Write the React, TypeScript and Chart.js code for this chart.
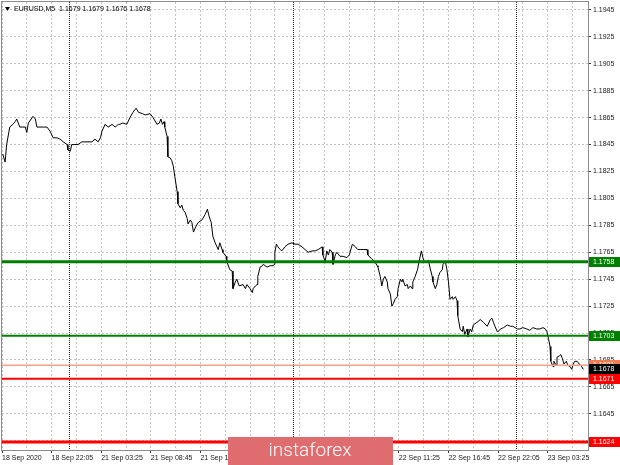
import { useEffect, useRef } from "react";
import { Chart, registerables } from "chart.js";
Chart.register(...registerables);

const symbolTitle = "EURUSD,M5  1.1679 1.1679 1.1676 1.1678";

// bar index (M5 bars counted from 18 Sep 16:45) and close price
const barIndex = [
  1, 4, 6, 10, 14, 17, 19, 23, 27, 30,
  32, 34, 39, 40, 43, 45, 49, 53, 58, 62,
  66, 71, 75, 79, 84, 85, 88, 90, 94, 98,
  103, 107, 111, 116, 120, 124, 127, 129, 133, 137,
  142, 146, 150, 152, 156, 161, 165, 169, 173, 176,
  181, 185, 191, 195, 200, 203, 205, 207, 209, 210,
  213, 214, 217, 219, 221, 223, 226, 227, 230, 232,
  234, 236, 239, 240, 243, 245, 247, 250, 253, 258,
  262, 265, 267, 270, 272, 275, 279, 281, 284, 285,
  289, 290, 294, 297, 298, 301, 303, 306, 307, 311,
  314, 316, 320, 323, 324, 327, 329, 330, 333, 336,
  337, 342, 346, 350, 351, 352, 354, 356, 359, 361,
  365, 369, 374, 378, 382, 387, 391, 395, 400, 404,
  408, 413, 414, 417, 419, 421, 423, 426, 427, 430,
  432, 436, 440, 445, 448, 452, 456, 459, 462, 466,
  471, 472, 477, 481, 484, 485, 488, 490, 492, 494,
  497, 498, 501, 503, 505, 507, 510, 511, 514, 516,
  517, 520, 523, 524, 527, 529, 530, 533, 536, 538,
  541, 543, 545, 548, 550, 552, 555, 556, 559, 561,
  563, 565, 568, 569, 572, 574, 576, 578, 581, 582,
  585, 587, 588, 591, 594, 595, 597, 600, 601, 604,
  606, 608, 613, 617, 621, 626, 630, 632, 634, 636,
  639, 640, 643, 647, 652, 656, 659, 665, 668, 672,
  677, 681, 685, 690, 694, 698, 701, 703, 705, 707,
  708, 711, 712, 715, 716, 719, 721, 723, 725, 728,
  730, 733, 735, 737, 739, 742, 743, 746, 748, 750,
];

const closePrice = [
  1.1838, 1.1832, 1.1845, 1.1858, 1.1860, 1.1862, 1.1864, 1.1858, 1.1858, 1.1858,
  1.1854, 1.1861, 1.1865, 1.1866, 1.1864, 1.1858, 1.1858, 1.1858, 1.1858, 1.1855,
  1.1850, 1.1850, 1.1849, 1.1847, 1.1845, 1.1841, 1.1840, 1.1845, 1.1845, 1.1845,
  1.1847, 1.1847, 1.1847, 1.1847, 1.1849, 1.1847, 1.1850, 1.1855, 1.1860, 1.1858,
  1.1860, 1.1858, 1.1860, 1.1860, 1.1861, 1.1860, 1.1865, 1.1869, 1.1872, 1.1869,
  1.1868, 1.1867, 1.1868, 1.1865, 1.1860, 1.1861, 1.1864, 1.1860, 1.1862, 1.1858,
  1.1851, 1.1836, 1.1835, 1.1833, 1.1829, 1.1821, 1.1810, 1.1801, 1.1798, 1.1800,
  1.1796, 1.1795, 1.1790, 1.1786, 1.1789, 1.1787, 1.1780, 1.1784, 1.1787, 1.1789,
  1.1793, 1.1797, 1.1792, 1.1787, 1.1777, 1.1772, 1.1767, 1.1772, 1.1767, 1.1765,
  1.1762, 1.1758, 1.1752, 1.1751, 1.1738, 1.1743, 1.1745, 1.1740, 1.1740, 1.1741,
  1.1738, 1.1741, 1.1738, 1.1735, 1.1738, 1.1740, 1.1741, 1.1747, 1.1754, 1.1755,
  1.1756, 1.1754, 1.1755, 1.1755, 1.1756, 1.1765, 1.1771, 1.1769, 1.1767, 1.1766,
  1.1769, 1.1771, 1.1772, 1.1771, 1.1771, 1.1769, 1.1767, 1.1765, 1.1766, 1.1766,
  1.1767, 1.1769, 1.1763, 1.1758, 1.1766, 1.1763, 1.1767, 1.1765, 1.1756, 1.1763,
  1.1765, 1.1762, 1.1762, 1.1761, 1.1763, 1.1771, 1.1769, 1.1767, 1.1767, 1.1767,
  1.1767, 1.1763, 1.1760, 1.1758, 1.1755, 1.1754, 1.1747, 1.1740, 1.1745, 1.1747,
  1.1743, 1.1738, 1.1734, 1.1725, 1.1727, 1.1730, 1.1732, 1.1738, 1.1745, 1.1743,
  1.1745, 1.1740, 1.1741, 1.1738, 1.1740, 1.1738, 1.1743, 1.1747, 1.1752, 1.1758,
  1.1766, 1.1761, 1.1758, 1.1758, 1.1759, 1.1754, 1.1747, 1.1743, 1.1738, 1.1741,
  1.1747, 1.1750, 1.1752, 1.1756, 1.1758, 1.1752, 1.1743, 1.1730, 1.1732, 1.1730,
  1.1732, 1.1729, 1.1718, 1.1708, 1.1706, 1.1710, 1.1704, 1.1708, 1.1702, 1.1708,
  1.1706, 1.1711, 1.1713, 1.1715, 1.1713, 1.1710, 1.1715, 1.1716, 1.1713, 1.1710,
  1.1706, 1.1706, 1.1708, 1.1709, 1.1711, 1.1710, 1.1710, 1.1708, 1.1708, 1.1709,
  1.1708, 1.1707, 1.1709, 1.1708, 1.1708, 1.1709, 1.1708, 1.1706, 1.1701, 1.1695,
  1.1684, 1.1680, 1.1684, 1.1681, 1.1687, 1.1688, 1.1689, 1.1686, 1.1682, 1.1684,
  1.1681, 1.1680, 1.1678, 1.1682, 1.1684, 1.1684, 1.1684, 1.1681, 1.1680, 1.1678,
];

const gridBars = [0, 32, 64, 96, 128, 160, 192, 224, 256, 288, 320, 352, 384, 416, 448, 480, 512, 544, 576, 608, 640, 672, 704, 736];
const labelBars = [0, 64, 128, 192, 256, 320, 384, 448, 512, 576, 640, 704];
const timeLabels = [
  "18 Sep 2020", "18 Sep 22:05", "21 Sep 03:25", "21 Sep 08:45", "21 Sep 14:05", "21 Sep 19:25",
  "22 Sep 00:45", "22 Sep 06:05", "22 Sep 11:25", "22 Sep 16:45", "22 Sep 22:05", "23 Sep 03:25",
];
const daySeparatorBars = [87, 375, 663];
const priceTicks = [1.1945, 1.1925, 1.1905, 1.1885, 1.1865, 1.1845, 1.1825, 1.1805, 1.1785, 1.1765, 1.1745, 1.1725, 1.1705, 1.1685, 1.1665, 1.1645, 1.1625];
const barMin = 0;
const barMax = 756;
const priceMin = 1.16181;
const priceMax = 1.19509;

// horizontal levels
const levelPrices = [1.1758, 1.1703, 1.1681, 1.1671, 1.1624];
const levelColors = ["#008000", "#008000", "#f6a184", "#ff0000", "#ff0000"];
const levelWidths = [3, 2, 1.5, 2, 3];
const lastPrice = 1.1678;

const watermarkText = "instaforex";

const FONT = '"Liberation Sans", Arial, sans-serif';

export default function App() {
  const ref = useRef<HTMLCanvasElement | null>(null);

  useEffect(() => {
    document.body.style.margin = "0";
    const canvas = ref.current;
    if (!canvas) return;

    const levelDatasets = levelPrices.map((p, i) => ({
      type: "line" as const,
      data: [{ x: barMin, y: p }, { x: barMax, y: p }],
      borderColor: levelColors[i],
      borderWidth: levelWidths[i],
      pointRadius: 0,
      fill: false,
    }));

    const overlay = {
      id: "mt4Overlay",
      beforeDraw(chart: any) {
        const ctx = chart.ctx;
        ctx.save();
        ctx.fillStyle = "#ffffff";
        ctx.fillRect(0, 0, chart.width, chart.height);
        ctx.restore();
      },
      beforeDatasetsDraw(chart: any) {
        const ctx = chart.ctx;
        const { top, bottom } = chart.chartArea;
        const xs = chart.scales.x;
        ctx.save();
        ctx.strokeStyle = "#222";
        ctx.lineWidth = 1;
        ctx.setLineDash([1, 1]);
        daySeparatorBars.forEach((b) => {
          const x = Math.round(xs.getPixelForValue(b)) + 0.5;
          ctx.beginPath();
          ctx.moveTo(x, top);
          ctx.lineTo(x, bottom);
          ctx.stroke();
        });
        ctx.restore();
      },
      afterDraw(chart: any) {
        const ctx = chart.ctx;
        const { left, top, right, bottom } = chart.chartArea;
        const ys = chart.scales.y;
        ctx.save();
        // frame
        ctx.strokeStyle = "#8c8c8c";
        ctx.lineWidth = 1;
        ctx.strokeRect(left - 0.5, top - 0.5, right - left + 1, bottom - top + 1);

        // price boxes on the right axis
        const box = (value: number, bg: string, fg: string) => {
          const y = Math.round(ys.getPixelForValue(value));
          ctx.fillStyle = bg;
          ctx.fillRect(right + 1, y - 5, chart.width - right - 1, 10);
          ctx.fillStyle = fg;
          ctx.font = `7px ${FONT}`;
          ctx.textBaseline = "middle";
          ctx.textAlign = "left";
          ctx.fillText(value.toFixed(4), right + 5, y + 0.5);
        };
        box(levelPrices[0], "#008000", "#ffffff");
        box(levelPrices[1], "#008000", "#ffffff");
        box(levelPrices[2], "#f47b52", "#ffffff");
        box(lastPrice, "#000000", "#ffffff");
        box(levelPrices[3], "#ff0000", "#ffffff");
        box(levelPrices[4], "#ff0000", "#ffffff");

        // title
        ctx.fillStyle = "#000";
        ctx.beginPath();
        ctx.moveTo(5, 7);
        ctx.lineTo(10, 7);
        ctx.lineTo(7.5, 11);
        ctx.closePath();
        ctx.fill();
        ctx.font = `7px ${FONT}`;
        ctx.textBaseline = "middle";
        ctx.textAlign = "left";
        ctx.fillText(symbolTitle, 14, 9);

        // watermark
        ctx.fillStyle = "#df6c6f";
        ctx.fillRect(228, 437, 165, 28);
        ctx.fillStyle = "#ffffff";
        ctx.font = `300 19px Roboto, "Open Sans", sans-serif`;
        ctx.textAlign = "center";
        ctx.textBaseline = "middle";
        ctx.fillText(watermarkText, 310, 451);
        ctx.restore();
      },
    };

    const chart = new Chart(canvas, {
      type: "line",
      data: {
        datasets: [
          ...levelDatasets,
          {
            type: "line" as const,
            data: barIndex.map((b, i) => ({ x: b, y: closePrice[i] })),
            borderColor: "#000000",
            borderWidth: 1,
            pointRadius: 0,
            tension: 0,
            fill: false,
          },
        ],
      },
      options: {
        responsive: false,
        devicePixelRatio: 1,
        animation: false,
        events: [],
        layout: { padding: { left: 2, top: 2, right: 0, bottom: 0 } },
        plugins: { legend: { display: false }, tooltip: { enabled: false } },
        scales: {
          x: {
            type: "linear",
            position: "bottom",
            min: barMin,
            max: barMax,
            afterBuildTicks: (scale: any) => {
              scale.ticks = gridBars.map((v) => ({ value: v }));
            },
            afterFit: (scale: any) => {
              scale.height = 15;
              scale.paddingLeft = 0;
              scale.paddingRight = 0;
            },
            ticks: {
              autoSkip: false,
              maxRotation: 0,
              minRotation: 0,
              align: "start",
              padding: 1,
              color: "#1a1a1a",
              font: { family: FONT, size: 7 },
              callback: (value: any) => {
                const i = labelBars.indexOf(Number(value));
                return i >= 0 ? timeLabels[i] : "";
              },
            },
            grid: {
              color: "#c4c4c4",
              lineWidth: 1,
              tickLength: 3,
              tickColor: (c: any) => (c.tick && labelBars.includes(c.tick.value) ? "#333" : "rgba(0,0,0,0)"),
            },
            border: { display: true, color: "#8c8c8c", width: 1, dash: [2, 2] },
          },
          y: {
            type: "linear",
            position: "right",
            min: priceMin,
            max: priceMax,
            afterBuildTicks: (scale: any) => {
              scale.ticks = priceTicks.map((v) => ({ value: v }));
            },
            afterFit: (scale: any) => {
              scale.width = 32;
              scale.paddingTop = 0;
              scale.paddingBottom = 0;
            },
            ticks: {
              autoSkip: false,
              padding: 2,
              color: "#1a1a1a",
              font: { family: FONT, size: 7 },
              callback: (value: any) => Number(value).toFixed(4),
            },
            grid: {
              color: "#c4c4c4",
              lineWidth: 1,
              tickLength: 3,
              tickColor: "#333",
            },
            border: { display: true, color: "#8c8c8c", width: 1, dash: [2, 2] },
          },
        },
      },
      plugins: [overlay],
    } as any);

    return () => chart.destroy();
  }, []);

  return (
    <div style={{ position: "fixed", left: 0, top: 0, width: 620, height: 465 }}>
      <canvas ref={ref} width={620} height={465} style={{ width: 620, height: 465, display: "block" }} />
    </div>
  );
}
